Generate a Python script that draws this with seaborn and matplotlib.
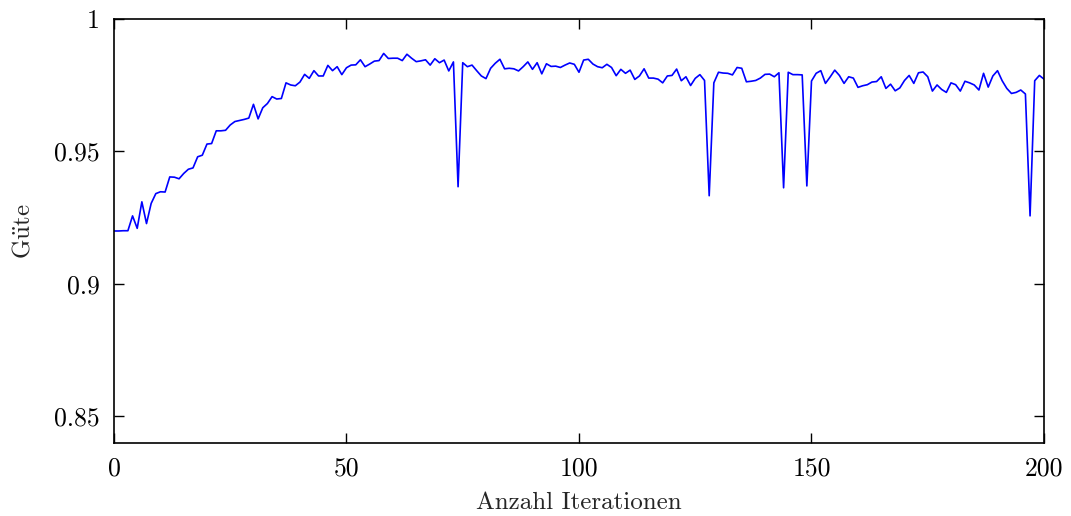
import matplotlib
matplotlib.use("Agg")
import matplotlib.pyplot as plt
from matplotlib.ticker import FuncFormatter
import seaborn as sns
import pandas as pd

# Güte per iteration (iterations 0..200)
iterations = list(range(201))
guete = [
    0.9200, 0.9200, 0.9201, 0.9201, 0.9257, 0.9210, 0.9310, 0.9228, 0.9304, 0.9341,
    0.9348, 0.9347, 0.9404, 0.9403, 0.9397, 0.9417, 0.9433, 0.9438, 0.9480, 0.9486,
    0.9528, 0.9530, 0.9578, 0.9578, 0.9580, 0.9600, 0.9613, 0.9617, 0.9621, 0.9626,
    0.9678, 0.9623, 0.9665, 0.9681, 0.9707, 0.9698, 0.9700, 0.9759, 0.9751, 0.9748,
    0.9762, 0.9791, 0.9776, 0.9805, 0.9785, 0.9785, 0.9825, 0.9805, 0.9820, 0.9790,
    0.9816, 0.9826, 0.9827, 0.9846, 0.9820, 0.9830, 0.9841, 0.9843, 0.9870, 0.9851,
    0.9852, 0.9852, 0.9843, 0.9867, 0.9852, 0.9839, 0.9842, 0.9846, 0.9826, 0.9850,
    0.9835, 0.9845, 0.9804, 0.9838, 0.9367, 0.9835, 0.9820, 0.9826, 0.9805, 0.9785,
    0.9775, 0.9814, 0.9833, 0.9848, 0.9812, 0.9814, 0.9812, 0.9804, 0.9820, 0.9838,
    0.9810, 0.9835, 0.9793, 0.9831, 0.9821, 0.9822, 0.9817, 0.9826, 0.9834, 0.9829,
    0.9799, 0.9845, 0.9848, 0.9830, 0.9820, 0.9816, 0.9829, 0.9817, 0.9786, 0.9810,
    0.9795, 0.9807, 0.9772, 0.9785, 0.9812, 0.9777, 0.9777, 0.9773, 0.9759, 0.9785,
    0.9787, 0.9811, 0.9767, 0.9782, 0.9749, 0.9776, 0.9790, 0.9768, 0.9333, 0.9759,
    0.9799, 0.9796, 0.9795, 0.9789, 0.9817, 0.9814, 0.9763, 0.9765, 0.9768, 0.9777,
    0.9791, 0.9792, 0.9782, 0.9797, 0.9363, 0.9799, 0.9790, 0.9790, 0.9789, 0.9370,
    0.9766, 0.9795, 0.9805, 0.9757, 0.9781, 0.9807, 0.9787, 0.9757, 0.9782, 0.9777,
    0.9742, 0.9748, 0.9752, 0.9762, 0.9764, 0.9782, 0.9738, 0.9754, 0.9729, 0.9740,
    0.9768, 0.9787, 0.9757, 0.9797, 0.9800, 0.9782, 0.9728, 0.9751, 0.9734, 0.9723,
    0.9759, 0.9752, 0.9728, 0.9765, 0.9759, 0.9751, 0.9732, 0.9795, 0.9743, 0.9785,
    0.9805, 0.9767, 0.9738, 0.9719, 0.9723, 0.9732, 0.9717, 0.9257, 0.9767, 0.9787,
    0.9773,
]
x_ticks = [0, 50, 100, 150, 200]
y_ticks = [0.85, 0.9, 0.95, 1.0]

df = pd.DataFrame({"Iteration": iterations, "Guete": guete})

sns.set_style("ticks")
plt.rcParams["font.family"] = ["cmr10", "DejaVu Serif"]
plt.rcParams["mathtext.fontset"] = "cm"
plt.rcParams["axes.formatter.use_mathtext"] = True

fig = plt.figure(figsize=(10.71, 5.16), dpi=100)
ax = fig.add_axes([0.1064, 0.1415, 0.8684, 0.8217])

sns.lineplot(data=df, x="Iteration", y="Guete", ax=ax, color="#0000ff",
             linewidth=1.2)

ax.set_xlim(0, 200)
ax.set_ylim(0.84, 1.0)
ax.set_xticks(x_ticks)
ax.set_yticks(y_ticks)
ax.yaxis.set_major_formatter(FuncFormatter(lambda v, _: f"{v:g}"))
ax.xaxis.set_major_formatter(FuncFormatter(lambda v, _: f"{v:g}"))

for side in ["top", "right", "bottom", "left"]:
    ax.spines[side].set_visible(True)
    ax.spines[side].set_linewidth(1.2)
    ax.spines[side].set_color("black")

ax.tick_params(axis="both", which="major", direction="in", length=7,
               width=1.0, colors="black", labelsize=18.5,
               top=True, right=True, pad=10)

ax.set_xlabel("Anzahl Iterationen", fontsize=18, labelpad=8)
ax.set_ylabel(r"$\mathrm{G\ddot{u}te}$", fontsize=18, labelpad=14)

fig.savefig("out.png", dpi=100)
